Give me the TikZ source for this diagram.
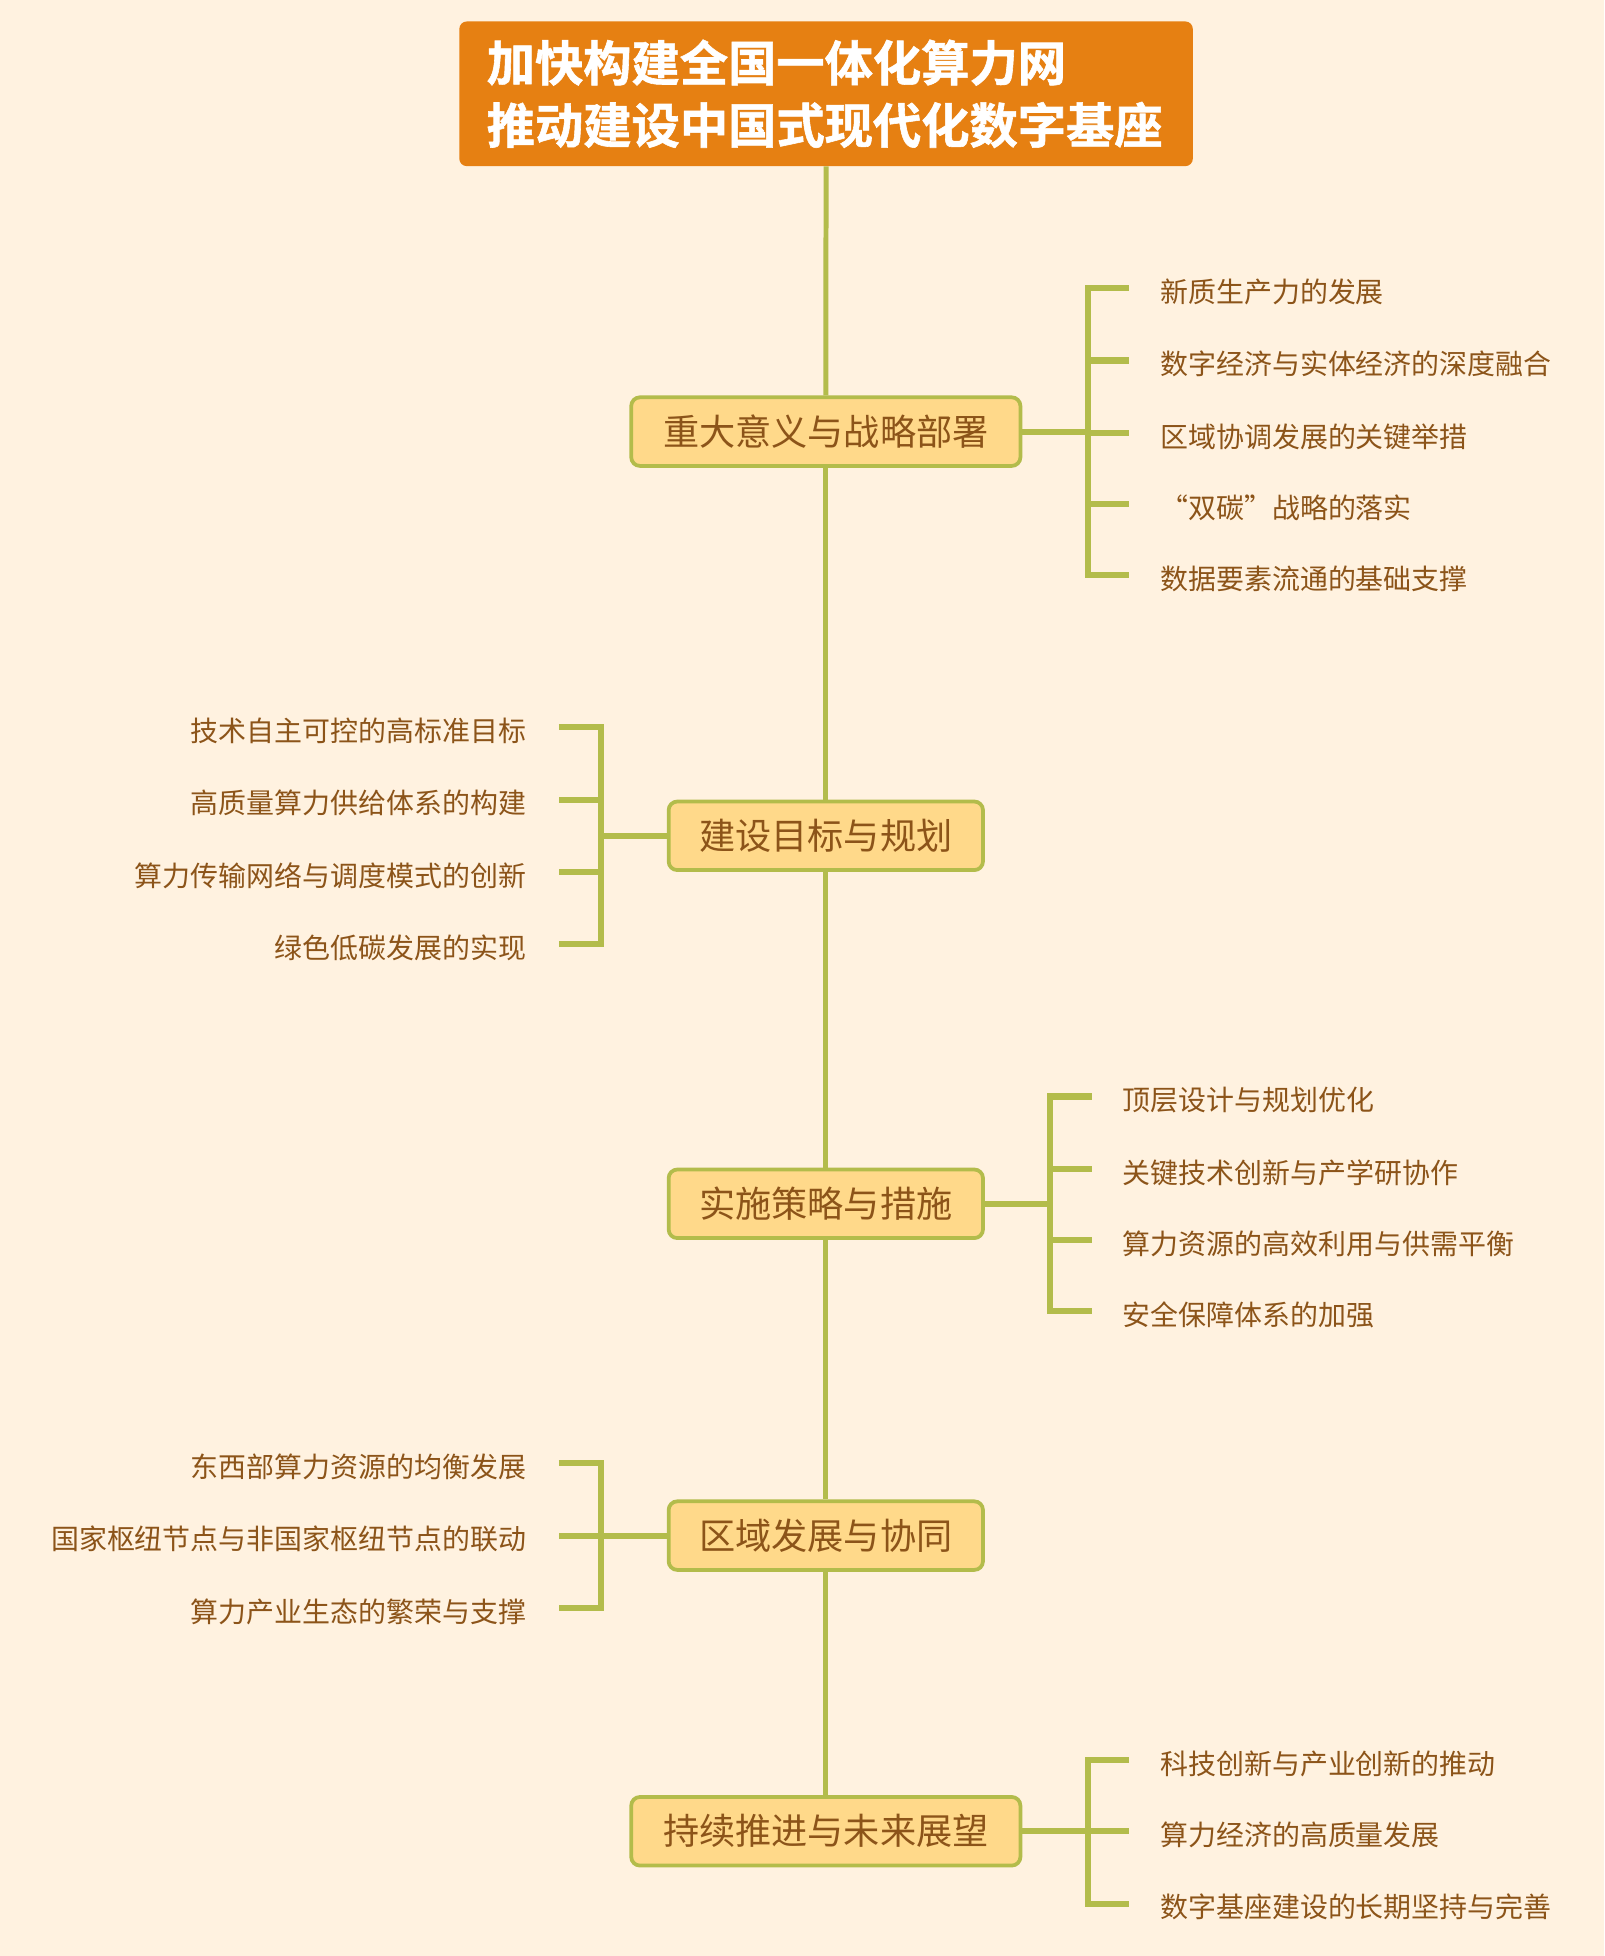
\documentclass[tikz,border=0pt]{standalone}
\usepackage{fontspec}
\setmainfont{Noto Sans CJK SC}
\newfontfamily\cjk{Noto Sans CJK SC}
\newfontfamily\cjkbold[FakeBold=1.2]{Noto Sans CJK SC Bold}
\definecolor{bgc}{HTML}{FFF2E0}
\definecolor{titlec}{HTML}{E68012}
\definecolor{nodefill}{HTML}{FFD98A}
\definecolor{linec}{HTML}{B3BC4B}
\definecolor{textc}{HTML}{8C5419}
\tikzset{
  trunk/.style={draw=linec, line width=4pt},
  brk/.style={draw=linec, line width=5pt, line join=miter},
  branch/.style={draw=linec, line width=3pt, fill=nodefill, rounded corners=7pt,
    text=textc, font=\cjk\fontsize{29}{32}\selectfont, inner sep=0pt,
    minimum height=55pt, text height=24.6pt, text depth=2.9pt},
  leafR/.style={anchor=west, text=textc, font=\cjk\fontsize{22.4}{26}\selectfont,
    inner xsep=25pt, inner ysep=0pt, text height=25pt, text depth=2.2pt},
  leafL/.style={anchor=east, text=textc, font=\cjk\fontsize{22.4}{26}\selectfont,
    inner xsep=26pt, inner ysep=0pt, text height=25pt, text depth=2.2pt},
}
\begin{document}
\begin{tikzpicture}[x=1pt,y=-1pt]
\fill[bgc] (0,0) rectangle (1286,1568);
\useasboundingbox (0,0) rectangle (1286,1568);

% title
\node[anchor=north west, fill=titlec, rounded corners=6pt, minimum width=588pt,
  minimum height=116pt, inner xsep=22pt, inner ysep=0pt, text=white, align=left,
  text width=544pt, font=\cjkbold\fontsize{38.7}{50}\selectfont] (title) at (368,17)
  {加快构建全国一体化算力网\\推动建设中国式现代化数字基座};

% branch nodes
\node[branch, minimum width=312pt] (n1) at (662,346) {重大意义与战略部署};
\node[branch, minimum width=252pt] (n2) at (662,670) {建设目标与规划};
\node[branch, minimum width=252pt] (n3) at (662,965) {实施策略与措施};
\node[branch, minimum width=252pt] (n4) at (662,1231) {区域发展与协同};
\node[branch, minimum width=312pt] (n5) at (662,1468) {持续推进与未来展望};

% trunk
\draw[trunk] (title.south) -- (n1.north);
\draw[trunk] (n1.south) -- (n2.north);
\draw[trunk] (n2.south) -- (n3.north);
\draw[trunk] (n3.south) -- (n4.north);
\draw[trunk] (n4.south) -- (n5.north);

% branch 1 leaves
\node[leafR] (l11) at (905,231) {新质生产力的发展};
\node[leafR] (l12) at (905,289) {数字经济与实体经济的深度融合};
\node[leafR] (l13) at (905,347) {区域协调发展的关键举措};
\node[leafR] (l14) at (905,404) {“双碳”战略的落实};
\node[leafR] (l15) at (905,461) {数据要素流通的基础支撑};
\coordinate (b1) at (872,346);
\draw[brk] (n1.east) -- (b1);
\draw[brk] (l11.west) -| (b1 |- l15.west) -- (l15.west);
\draw[brk] (b1 |- l12.west) -- (l12.west);
\draw[brk] (b1 |- l13.west) -- (l13.west);
\draw[brk] (b1 |- l14.west) -- (l14.west);

% branch 2 leaves
\node[leafL] (l21) at (448,583) {技术自主可控的高标准目标};
\node[leafL] (l22) at (448,641) {高质量算力供给体系的构建};
\node[leafL] (l23) at (448,699) {算力传输网络与调度模式的创新};
\node[leafL] (l24) at (448,757) {绿色低碳发展的实现};
\coordinate (b2) at (482,670);
\draw[brk] (n2.west) -- (b2);
\draw[brk] (l21.east) -| (b2 |- l24.east) -- (l24.east);
\draw[brk] (b2 |- l22.east) -- (l22.east);
\draw[brk] (b2 |- l23.east) -- (l23.east);

% branch 3 leaves
\node[leafR] (l31) at (875,879) {顶层设计与规划优化};
\node[leafR] (l32) at (875,937) {关键技术创新与产学研协作};
\node[leafR] (l33) at (875,994) {算力资源的高效利用与供需平衡};
\node[leafR] (l34) at (875,1051) {安全保障体系的加强};
\coordinate (b3) at (842,965);
\draw[brk] (n3.east) -- (b3);
\draw[brk] (l31.west) -| (b3 |- l34.west) -- (l34.west);
\draw[brk] (b3 |- l32.west) -- (l32.west);
\draw[brk] (b3 |- l33.west) -- (l33.west);

% branch 4 leaves
\node[leafL] (l41) at (448,1173) {东西部算力资源的均衡发展};
\node[leafL] (l42) at (448,1231) {国家枢纽节点与非国家枢纽节点的联动};
\node[leafL] (l43) at (448,1289) {算力产业生态的繁荣与支撑};
\coordinate (b4) at (482,1231);
\draw[brk] (n4.west) -- (b4);
\draw[brk] (l41.east) -| (b4 |- l43.east) -- (l43.east);
\draw[brk] (b4 |- l42.east) -- (l42.east);

% branch 5 leaves
\node[leafR] (l51) at (905,1411) {科技创新与产业创新的推动};
\node[leafR] (l52) at (905,1468) {算力经济的高质量发展};
\node[leafR] (l53) at (905,1526) {数字基座建设的长期坚持与完善};
\coordinate (b5) at (872,1468);
\draw[brk] (n5.east) -- (b5);
\draw[brk] (l51.west) -| (b5 |- l53.west) -- (l53.west);
\draw[brk] (b5 |- l52.west) -- (l52.west);
\end{tikzpicture}
\end{document}
